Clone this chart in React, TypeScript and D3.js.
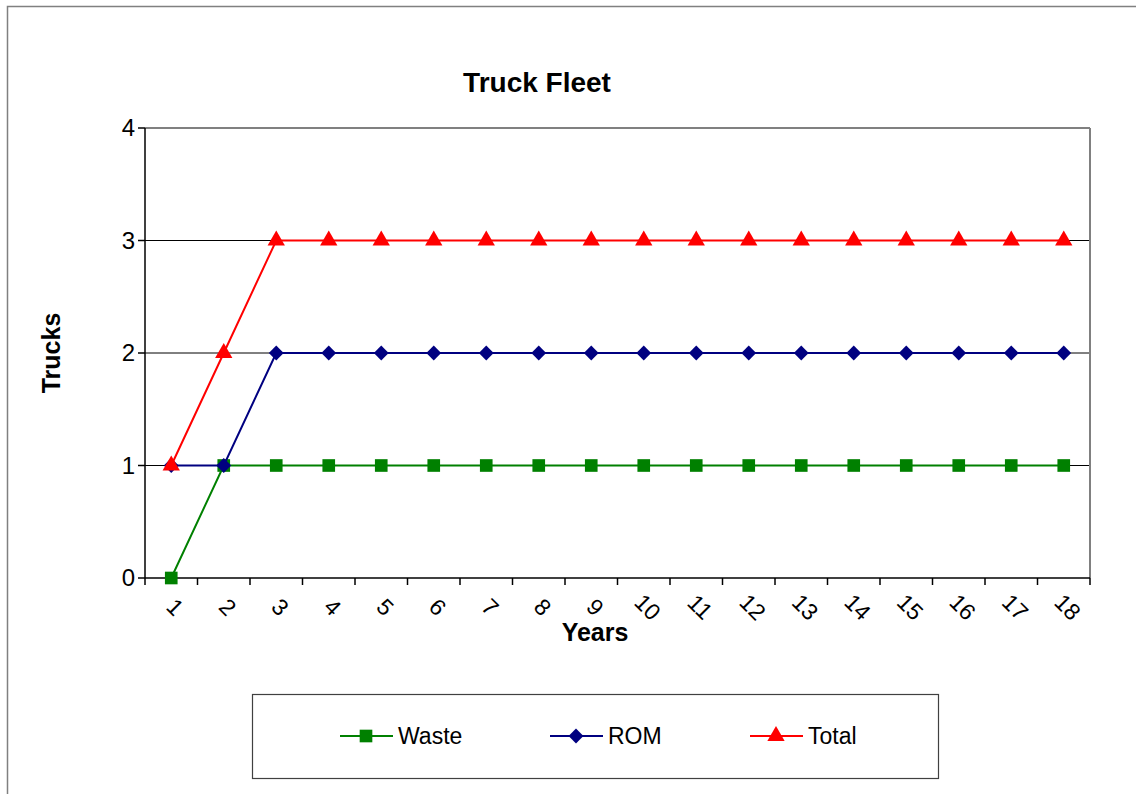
import React from 'react';
import * as d3 from 'd3';

const years = ['1', '2', '3', '4', '5', '6', '7', '8', '9', '10', '11', '12', '13', '14', '15', '16', '17', '18'];
const waste = [0, 1, 1, 1, 1, 1, 1, 1, 1, 1, 1, 1, 1, 1, 1, 1, 1, 1];
const rom = [1, 1, 2, 2, 2, 2, 2, 2, 2, 2, 2, 2, 2, 2, 2, 2, 2, 2];
const total = [1, 2, 3, 3, 3, 3, 3, 3, 3, 3, 3, 3, 3, 3, 3, 3, 3, 3];
const yTicks = [0, 1, 2, 3, 4];

// wide diamond (square turned 45 degrees)
const wideDiamond: d3.SymbolType = {
  draw(ctx, size) {
    const r = Math.sqrt(size / 2);
    ctx.moveTo(0, -r);
    ctx.lineTo(r, 0);
    ctx.lineTo(0, r);
    ctx.lineTo(-r, 0);
    ctx.closePath();
  },
};

const series = [
  { name: 'Waste', values: waste, color: '#008000', symbol: d3.symbolSquare, size: 160 },
  { name: 'ROM', values: rom, color: '#000080', symbol: wideDiamond, size: 110 },
  { name: 'Total', values: total, color: '#FF0000', symbol: d3.symbolTriangle, size: 130 },
];

const W = 1136;
const H = 794;
const margin = { top: 128, right: 46, bottom: 216, left: 145 };
const font = 'Arial, "Liberation Sans", sans-serif';

const App: React.FC = () => {
  const plotW = W - margin.left - margin.right;
  const plotH = H - margin.top - margin.bottom;

  const x = d3.scaleBand<string>().domain(years).range([margin.left, margin.left + plotW]);
  const y = d3.scaleLinear().domain([0, 4]).range([margin.top + plotH, margin.top]);
  const cx = (d: string) => (x(d) || 0) + x.bandwidth() / 2;

  const line = d3.line<number>()
    .x((_, i) => cx(years[i]))
    .y(d => y(d));

  const legendItems = [
    { s: series[0], lx: 340 },
    { s: series[1], lx: 550 },
    { s: series[2], lx: 750 },
  ];
  const legendY = 736;

  return (
    <svg width={W} height={H} style={{ position: 'absolute', left: 0, top: 0, fontFamily: font }}>
      <rect x={0} y={0} width={W} height={H} fill="#fff" />
      <rect x={7.5} y={6.5} width={W + 10} height={H + 10} fill="none" stroke="#808080" strokeWidth={1.5} />

      <text x={537} y={92} textAnchor="middle" fontSize={28} fontWeight="bold">Truck Fleet</text>

      {/* gridlines */}
      {yTicks.filter(t => t > 0 && t < 4).map(t => (
        <line key={t} x1={margin.left} x2={margin.left + plotW} y1={y(t)} y2={y(t)} stroke="#000" strokeWidth={1} />
      ))}
      {/* plot border top/right */}
      <line x1={margin.left} x2={margin.left + plotW} y1={y(4)} y2={y(4)} stroke="#808080" strokeWidth={2} />
      <line x1={margin.left + plotW} x2={margin.left + plotW} y1={y(4)} y2={y(0)} stroke="#808080" strokeWidth={2} />

      {/* y axis */}
      <line x1={margin.left} x2={margin.left} y1={y(4)} y2={y(0)} stroke="#000" strokeWidth={1.5} />
      {yTicks.map(t => (
        <g key={t}>
          <line x1={margin.left - 7} x2={margin.left} y1={y(t)} y2={y(t)} stroke="#000" strokeWidth={1.5} />
          <text x={margin.left - 10} y={y(t)} dy="0.35em" textAnchor="end" fontSize={24}>{t}</text>
        </g>
      ))}

      {/* x axis */}
      <line x1={margin.left} x2={margin.left + plotW} y1={y(0)} y2={y(0)} stroke="#000" strokeWidth={1.5} />
      {[...years.map(d => x(d) || 0), margin.left + plotW].map((px, i) => (
        <line key={i} x1={px} x2={px} y1={y(0)} y2={y(0) + 7} stroke="#000" strokeWidth={1.5} />
      ))}
      {years.map(d => (
        <text key={d} transform={`translate(${cx(d) + 4},${y(0) + 29}) rotate(45)`} textAnchor="middle" dy="0.35em" fontSize={23}>{d}</text>
      ))}

      <text x={595} y={641} textAnchor="middle" fontSize={25} fontWeight="bold">Years</text>
      <text transform={`translate(60,${(y(0) + y(4)) / 2}) rotate(-90)`} textAnchor="middle" fontSize={25} fontWeight="bold">Trucks</text>

      {/* series */}
      {series.map(s => (
        <g key={s.name}>
          <path d={line(s.values) || ''} fill="none" stroke={s.color} strokeWidth={2} />
          {s.values.map((v, i) => (
            <path key={i} d={d3.symbol().type(s.symbol).size(s.size)() || ''} transform={`translate(${cx(years[i])},${y(v)})`} fill={s.color} />
          ))}
        </g>
      ))}

      {/* legend */}
      <rect x={252.5} y={694.5} width={686} height={84} fill="#fff" stroke="#404040" strokeWidth={1.2} />
      {legendItems.map(({ s, lx }) => (
        <g key={s.name}>
          <line x1={lx} x2={lx + 53} y1={legendY} y2={legendY} stroke={s.color} strokeWidth={2} />
          <path d={d3.symbol().type(s.symbol).size(s.size)() || ''} transform={`translate(${lx + 26},${legendY})`} fill={s.color} />
          <text x={lx + 58} y={legendY} dy="0.35em" fontSize={23}>{s.name}</text>
        </g>
      ))}
    </svg>
  );
};

export default App;
